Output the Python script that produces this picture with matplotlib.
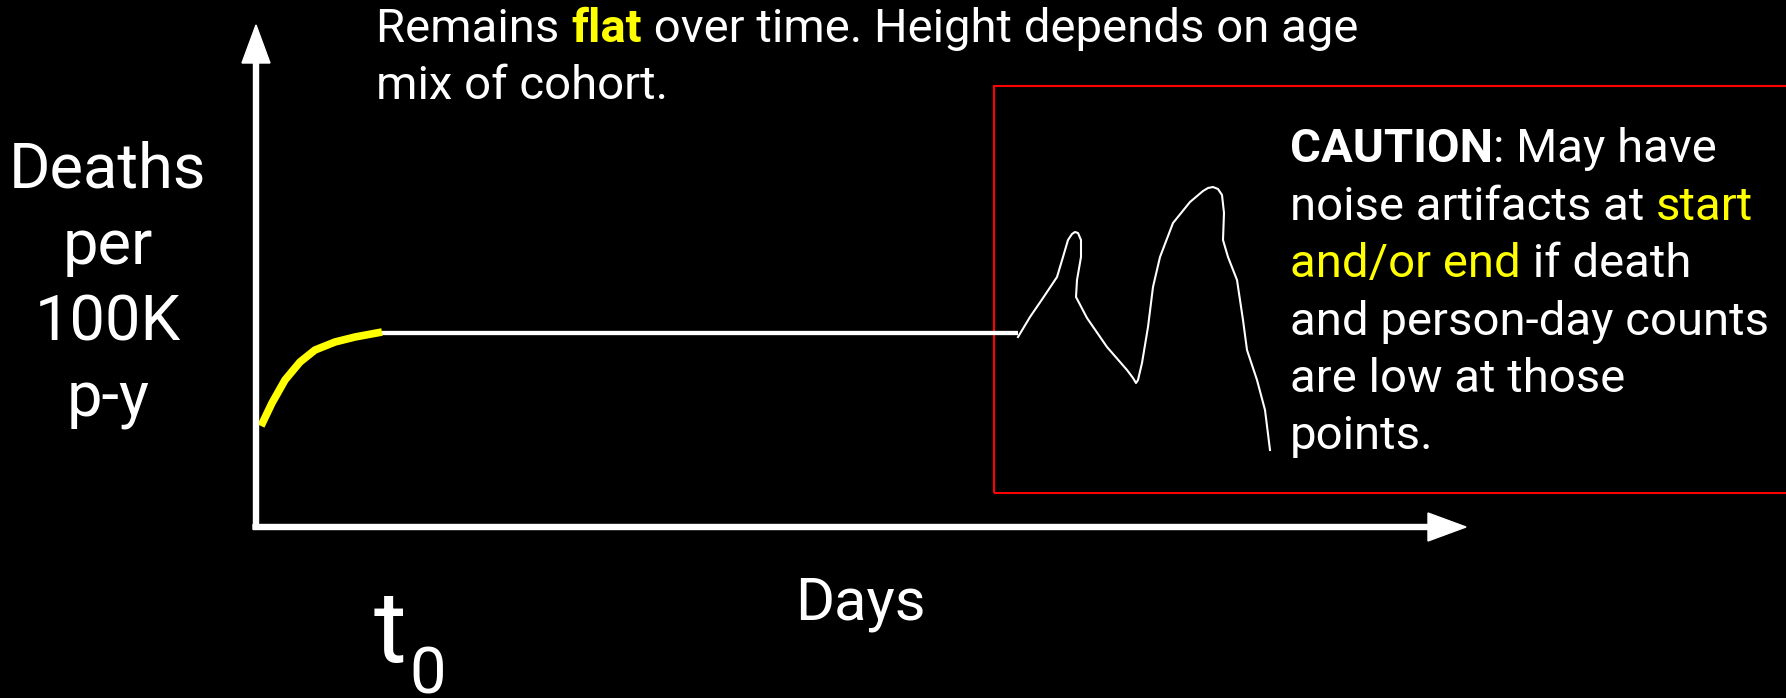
import matplotlib
matplotlib.use("Agg")
import matplotlib.pyplot as plt
from matplotlib.patches import Rectangle

plt.rcParams["font.family"] = ["Roboto", "DejaVu Sans"]

# Sketch data, axes origin at (0, 0); one unit = one pixel of the slide
start_days = [5, 16, 29, 44, 59, 79, 99, 126]
start_rate = [101, 124, 147, 165, 177, 185, 190, 195]

flat_days = [126, 762]
flat_rate = [194, 194]

noise_days = [762, 774, 787, 801, 807, 812, 816, 819, 822, 825, 825, 821, 820,
              831, 851, 871, 877, 880, 882, 886, 892, 897, 904, 917, 934, 947,
              952, 957, 962, 966, 968, 967, 972, 981, 987, 991, 1001, 1009, 1014]
noise_rate = [190, 210, 229, 250, 270, 287, 293, 295, 294, 287, 270, 247, 230,
              209, 180, 157, 149, 144, 147, 164, 200, 240, 270, 304, 325, 336,
              339, 340, 338, 332, 314, 287, 270, 247, 207, 177, 147, 117, 77]

y_label_lines = ["Deaths", "per", "100K", "p-y"]
top_note = [
    [("Remains ", "white", "normal"), ("flat", "yellow", "bold"),
     (" over time. Height depends on age", "white", "normal")],
    [("mix of cohort.", "white", "normal")],
]
caution_note = [
    [("CAUTION", "white", "bold"), (": May have", "white", "normal")],
    [("noise artifacts at ", "white", "normal"), ("start", "yellow", "normal")],
    [("and/or end", "yellow", "normal"), (" if death", "white", "normal")],
    [("and person-day counts", "white", "normal")],
    [("are low at those", "white", "normal")],
    [("points.", "white", "normal")],
]

W, H = 1786, 698
OX, OY = 256, 527

fig = plt.figure(figsize=(W / 100, H / 100), dpi=100, facecolor="black")
ax = fig.add_axes([0, 0, 1, 1])
ax.set_facecolor("black")
ax.set_xlim(-OX, W - OX)
ax.set_ylim(OY - H, OY)
ax.axis("off")

renderer = fig.canvas.get_renderer()


def advance(s, size, weight):
    # width of a string incl. spaces, measured between two bars
    a = ax.text(0, 0, "|" + s + "|", fontsize=size, fontweight=weight)
    b = ax.text(0, 0, "||", fontsize=size, fontweight=weight)
    w = a.get_window_extent(renderer).width - b.get_window_extent(renderer).width
    a.remove()
    b.remove()
    return w


def rich_lines(x, y0, step, lines, size):
    for i, pieces in enumerate(lines):
        cx = x
        for s, col, wt in pieces:
            ax.text(cx, y0 - i * step, s, color=col, fontsize=size,
                    fontweight=wt, va="baseline", ha="left")
            cx += advance(s, size, wt)


# axes arrows
ax.arrow(0, 0, 0, 502, width=5, head_width=28, head_length=38,
         length_includes_head=True, color="white", zorder=3)
ax.arrow(-3, 0, 1213, 0, width=5, head_width=28, head_length=38,
         length_includes_head=True, color="white", zorder=3)

# curves
ax.plot(flat_days, flat_rate, color="white", lw=3.1, solid_capstyle="butt")
ax.plot(start_days, start_rate, color="yellow", lw=5.5, solid_capstyle="butt",
        solid_joinstyle="round")
ax.plot(noise_days, noise_rate, color="white", lw=1.5, solid_joinstyle="round")

# caution box
ax.add_patch(Rectangle((738, 34), 900, 407, fill=False, edgecolor="red", lw=1.5))

# texts
rich_lines(120, 485, 57, top_note, 34)
rich_lines(1034, 365, 57.5, caution_note, 34)

for i, s in enumerate(y_label_lines):
    ax.text(-148, 339 - i * 76.3, s, color="white", fontsize=45.5,
            ha="center", va="baseline")

ax.text(539, -93, "Days", color="white", fontsize=43, va="baseline")
ax.text(118, -135, "t", color="white", fontsize=72, va="baseline")
ax.text(153, -167, "0", color="white", fontsize=47, va="baseline")

fig.savefig("out.png", dpi=100, facecolor="black")
